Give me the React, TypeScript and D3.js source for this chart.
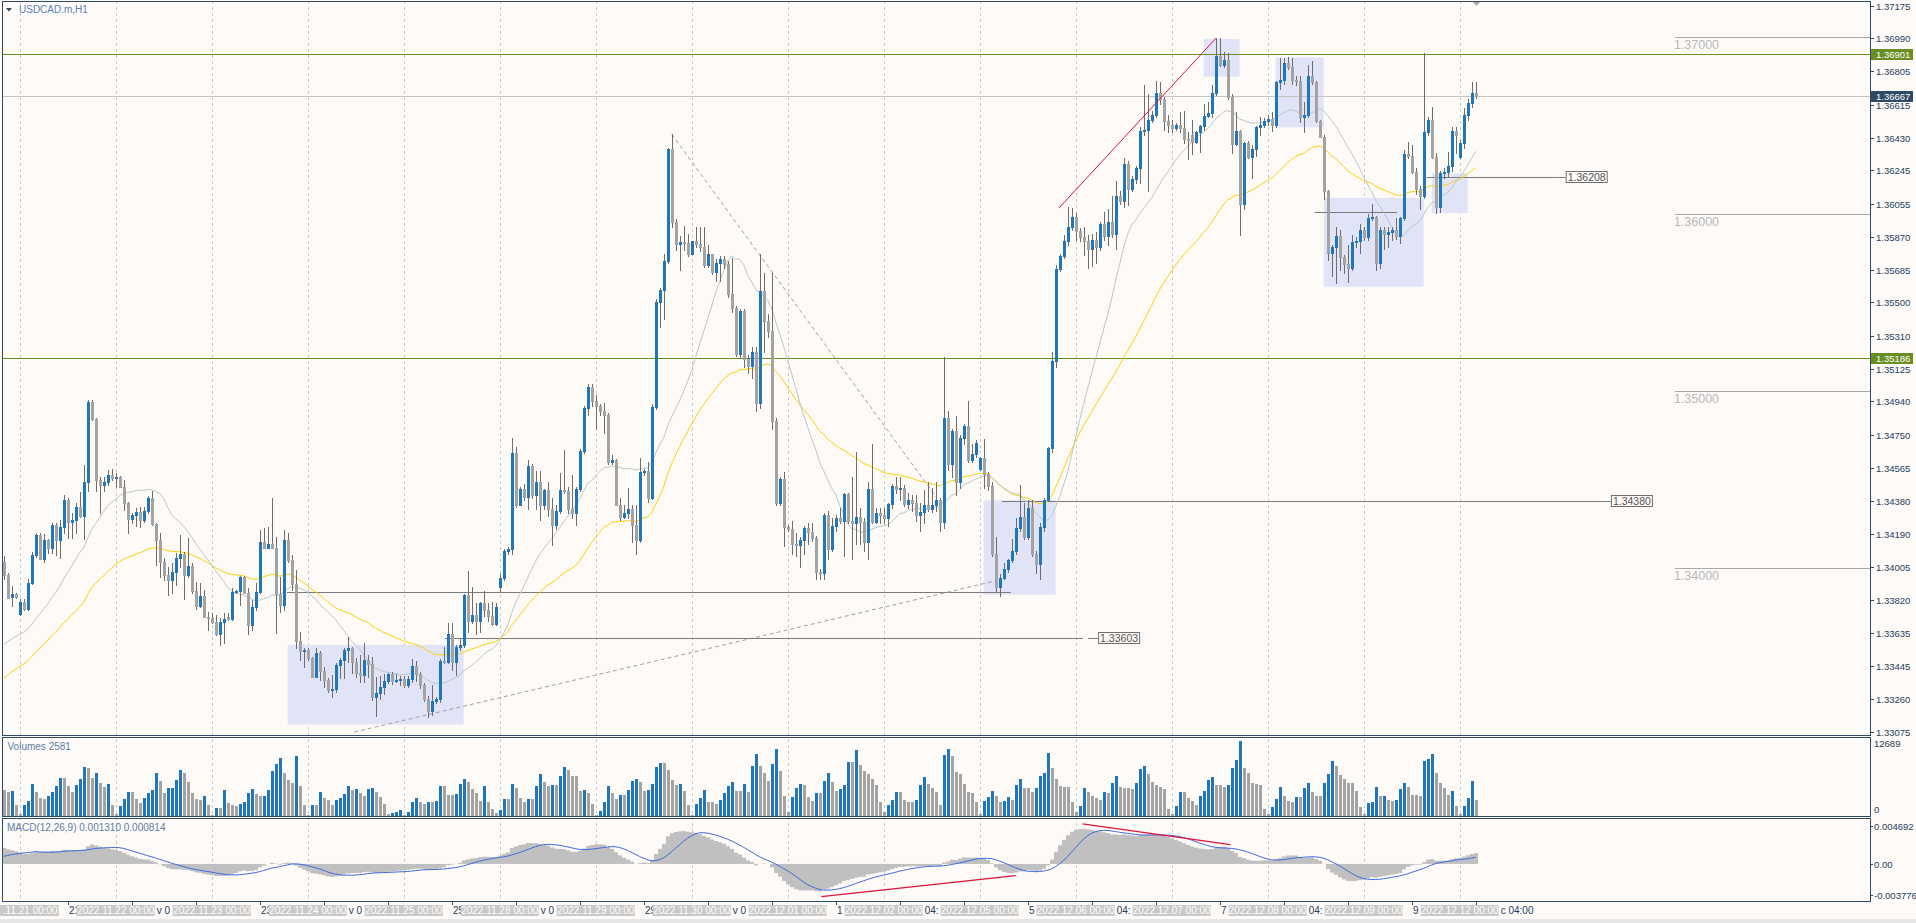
import React from "react";
import * as d3 from "d3";

// ---------------- DATA ----------------
// bar index 0 = 2022.11.21 00:00 (H1). First visible bar is index -4 (2022.11.18 20:00).
const firstIndex = -4;

// [open, high, low, close]
const candles: number[][] = [
  // Nov 18 20:00-23:00
  [1.34036,1.34068,1.33940,1.33960],[1.33960,1.33974,1.33829,1.33832],[1.33838,1.33898,1.33786,1.33850],[1.33850,1.33857,1.33829,1.33838],
  // Nov 21
  [1.33738,1.33823,1.33735,1.33810],[1.33810,1.33823,1.33763,1.33767],[1.33767,1.33936,1.33763,1.33913],[1.33913,1.34088,1.33908,1.34071],
  [1.34071,1.34196,1.34064,1.34186],[1.34186,1.34196,1.34049,1.34053],[1.34053,1.34192,1.34036,1.34158],[1.34158,1.34162,1.34083,1.34111],
  [1.34111,1.34252,1.34083,1.34243],[1.34243,1.34256,1.34073,1.34158],[1.34158,1.34271,1.34058,1.34229],[1.34229,1.34412,1.34196,1.34384],
  [1.34384,1.34393,1.34167,1.34262],[1.34262,1.34308,1.34167,1.34271],[1.34271,1.34365,1.34196,1.34342],[1.34342,1.34431,1.34290,1.34295],
  [1.34295,1.34581,1.34162,1.34485],[1.34485,1.34948,1.34436,1.34939],[1.34939,1.34948,1.34835,1.34839],[1.34839,1.34845,1.34436,1.34497],
  [1.34497,1.34516,1.34308,1.34467],[1.34467,1.34516,1.34436,1.34485],[1.34485,1.34553,1.34468,1.34525],[1.34525,1.34557,1.34497,1.34506],
  // Nov 22
  [1.34506,1.34534,1.34459,1.34512],[1.34512,1.34519,1.34455,1.34459],[1.34459,1.34497,1.34327,1.34365],[1.34365,1.34374,1.34196,1.34277],
  [1.34277,1.34308,1.34252,1.34299],[1.34299,1.34337,1.34237,1.34318],[1.34318,1.34346,1.34233,1.34271],[1.34271,1.34346,1.34262,1.34322],
  [1.34322,1.34407,1.34308,1.34393],[1.34393,1.34435,1.34243,1.34248],[1.34248,1.34256,1.34017,1.34155],[1.34155,1.34196,1.33951,1.34032],
  [1.34032,1.34055,1.33932,1.33960],[1.33960,1.34007,1.33846,1.33932],[1.33932,1.34025,1.33857,1.33977],[1.33977,1.34083,1.33904,1.34058],
  [1.34058,1.34186,1.34007,1.34077],[1.34077,1.34092,1.33823,1.33960],[1.33960,1.34167,1.33951,1.34011],[1.34011,1.34025,1.33857,1.33870],
  [1.33870,1.33919,1.33767,1.33786],[1.33786,1.33913,1.33782,1.33844],[1.33844,1.33876,1.33720,1.33725],[1.33725,1.33753,1.33650,1.33716],
  // Nov 23
  [1.33716,1.33744,1.33688,1.33697],[1.33697,1.33735,1.33622,1.33625],[1.33625,1.33716,1.33565,1.33693],[1.33693,1.33744,1.33575,1.33712],
  [1.33725,1.33744,1.33706,1.33712],[1.33712,1.33885,1.33706,1.33864],[1.33864,1.33876,1.33857,1.33868],[1.33868,1.33955,1.33791,1.33951],
  [1.33951,1.33955,1.33857,1.33861],[1.33861,1.33885,1.33625,1.33678],[1.33678,1.33819,1.33650,1.33782],[1.33782,1.33913,1.33763,1.33864],
  [1.33864,1.34214,1.33857,1.34147],[1.34147,1.34228,1.34111,1.34115],[1.34115,1.34233,1.34111,1.34134],[1.34134,1.34393,1.34111,1.34115],
  [1.34115,1.34177,1.33635,1.33853],[1.33853,1.33951,1.33753,1.33791],[1.33791,1.34214,1.33763,1.34158],[1.34158,1.34196,1.34036,1.34045],
  [1.34045,1.34073,1.33876,1.33908],[1.33908,1.33989,1.33546,1.33590],[1.33590,1.33640,1.33480,1.33533],[1.33533,1.33546,1.33443,1.33537],
  // Nov 24
  [1.33537,1.33546,1.33480,1.33490],[1.33490,1.33499,1.33383,1.33386],[1.33386,1.33546,1.33383,1.33518],[1.33518,1.33528,1.33368,1.33415],
  [1.33415,1.33443,1.33330,1.33368],[1.33368,1.33377,1.33302,1.33311],[1.33311,1.33396,1.33273,1.33315],[1.33315,1.33462,1.33302,1.33452],
  [1.33452,1.33490,1.33377,1.33480],[1.33480,1.33546,1.33377,1.33537],[1.33537,1.33612,1.33471,1.33546],[1.33546,1.33556,1.33405,1.33471],
  [1.33471,1.33490,1.33386,1.33405],[1.33405,1.33509,1.33358,1.33396],[1.33396,1.33575,1.33358,1.33480],[1.33480,1.33509,1.33386,1.33458],
  [1.33458,1.33499,1.33255,1.33273],[1.33273,1.33386,1.33161,1.33292],[1.33292,1.33387,1.33261,1.33329],[1.33329,1.33399,1.33286,1.33362],
  [1.33362,1.33404,1.33349,1.33399],[1.33399,1.33412,1.33344,1.33362],[1.33362,1.33399,1.33354,1.33369],[1.33369,1.33387,1.33336,1.33374],
  // Nov 25
  [1.33374,1.33387,1.33329,1.33336],[1.33336,1.33387,1.33329,1.33374],[1.33374,1.33488,1.33354,1.33445],[1.33445,1.33475,1.33362,1.33399],
  [1.33399,1.33412,1.33324,1.33336],[1.33336,1.33349,1.33248,1.33261],[1.33261,1.33278,1.33159,1.33192],[1.33192,1.33336,1.33172,1.33248],
  [1.33248,1.33273,1.33235,1.33261],[1.33261,1.33488,1.33243,1.33475],[1.33475,1.33551,1.33462,1.33470],[1.33470,1.33690,1.33462,1.33627],
  [1.33627,1.33690,1.33425,1.33470],[1.33470,1.33563,1.33394,1.33551],[1.33551,1.33606,1.33538,1.33563],[1.33563,1.33855,1.33551,1.33847],
  [1.33847,1.33980,1.33639,1.33702],[1.33702,1.33893,1.33690,1.33733],[1.33733,1.33804,1.33627,1.33702],[1.33702,1.33809,1.33639,1.33804],
  [1.33804,1.33867,1.33727,1.33760],[1.33760,1.33804,1.33702,1.33727],[1.33727,1.33809,1.33677,1.33682],[1.33682,1.33804,1.33677,1.33778],
  // Nov 28
  [1.33893,1.33968,1.33867,1.33942],[1.33942,1.34106,1.33930,1.34093],[1.34093,1.34119,1.34081,1.34106],[1.34106,1.34732,1.34076,1.34649],
  [1.34649,1.34681,1.34346,1.34358],[1.34358,1.34459,1.34353,1.34447],[1.34447,1.34472,1.34384,1.34401],[1.34401,1.34611,1.34333,1.34573],
  [1.34573,1.34585,1.34396,1.34409],[1.34409,1.34548,1.34333,1.34485],[1.34485,1.34548,1.34270,1.34358],[1.34358,1.34447,1.34333,1.34439],
  [1.34439,1.34485,1.34295,1.34333],[1.34333,1.34396,1.34131,1.34245],[1.34245,1.34358,1.34220,1.34320],[1.34320,1.34535,1.34308,1.34439],
  [1.34439,1.34666,1.34422,1.34434],[1.34434,1.34459,1.34308,1.34333],[1.34333,1.34522,1.34283,1.34308],[1.34308,1.34459,1.34245,1.34447],
  [1.34447,1.34674,1.34434,1.34661],[1.34661,1.34914,1.34649,1.34901],[1.34901,1.35040,1.34863,1.35022],[1.35022,1.35040,1.34914,1.34944],
  // Nov 29
  [1.34944,1.34977,1.34787,1.34914],[1.34914,1.34926,1.34863,1.34888],[1.34888,1.34933,1.34762,1.34863],[1.34863,1.34876,1.34585,1.34598],
  [1.34598,1.34636,1.34585,1.34611],[1.34611,1.34616,1.34353,1.34358],[1.34358,1.34396,1.34270,1.34288],[1.34288,1.34358,1.34283,1.34308],
  [1.34308,1.34454,1.34283,1.34333],[1.34333,1.34353,1.34144,1.34245],[1.34245,1.34358,1.34081,1.34157],[1.34157,1.34623,1.34144,1.34540],
  [1.34540,1.34560,1.34522,1.34545],[1.34545,1.34598,1.34371,1.34396],[1.34396,1.34926,1.34389,1.34909],[1.34909,1.35519,1.34896,1.35499],
  [1.35499,1.35582,1.35363,1.35570],[1.35570,1.35772,1.35406,1.35731],[1.35731,1.36373,1.35721,1.36365],[1.36365,1.36448,1.35923,1.35954],
  [1.35954,1.35969,1.35797,1.35830],[1.35830,1.35873,1.35683,1.35840],[1.35840,1.35931,1.35797,1.35835],[1.35835,1.35885,1.35759,1.35772],
  // Nov 30
  [1.35772,1.35848,1.35772,1.35845],[1.35845,1.35923,1.35810,1.35828],[1.35828,1.35923,1.35792,1.35815],[1.35815,1.35923,1.35701,1.35709],
  [1.35709,1.35822,1.35700,1.35770],[1.35770,1.35772,1.35658,1.35671],[1.35671,1.35747,1.35620,1.35721],[1.35721,1.35759,1.35620,1.35747],
  [1.35747,1.35759,1.35696,1.35716],[1.35716,1.35734,1.35532,1.35545],[1.35545,1.35752,1.35444,1.35469],[1.35469,1.35480,1.35195,1.35210],
  [1.35210,1.35460,1.35190,1.35450],[1.35450,1.35460,1.35132,1.35181],[1.35181,1.35200,1.35100,1.35140],[1.35140,1.35248,1.35075,1.35219],
  [1.35219,1.35248,1.34887,1.34930],[1.34930,1.35773,1.34901,1.35565],[1.35565,1.35666,1.35219,1.35392],[1.35392,1.35435,1.35305,1.35340],
  [1.35340,1.35666,1.34786,1.34829],[1.34829,1.34844,1.34353,1.34368],[1.34368,1.34512,1.34353,1.34503],[1.34503,1.34541,1.34123,1.34230],
  // Dec 1
  [1.34230,1.34240,1.34210,1.34220],[1.34220,1.34267,1.34079,1.34137],[1.34137,1.34195,1.34065,1.34128],[1.34128,1.34174,1.34007,1.34160],
  [1.34160,1.34238,1.34079,1.34223],[1.34223,1.34252,1.34137,1.34200],[1.34200,1.34252,1.34151,1.34171],[1.34171,1.34180,1.33935,1.33978],
  [1.33978,1.33995,1.33940,1.33970],[1.33970,1.34310,1.33935,1.34296],[1.34296,1.34324,1.34050,1.34108],[1.34108,1.34281,1.34094,1.34238],
  [1.34238,1.34301,1.34209,1.34281],[1.34281,1.34339,1.34252,1.34267],[1.34267,1.34425,1.34065,1.34417],[1.34417,1.34425,1.34252,1.34267],
  [1.34267,1.34512,1.34050,1.34252],[1.34252,1.34656,1.34137,1.34290],[1.34290,1.34339,1.34137,1.34261],[1.34261,1.34281,1.34094,1.34146],
  [1.34146,1.34483,1.34050,1.34446],[1.34446,1.34700,1.34252,1.34261],[1.34261,1.34339,1.34252,1.34310],[1.34310,1.34339,1.34252,1.34296],
  // Dec 2
  [1.34296,1.34339,1.34252,1.34281],[1.34281,1.34368,1.34238,1.34359],[1.34359,1.34474,1.34339,1.34463],[1.34463,1.34512,1.34425,1.34446],
  [1.34446,1.34512,1.34382,1.34454],[1.34454,1.34469,1.34347,1.34359],[1.34359,1.34425,1.34339,1.34382],[1.34382,1.34411,1.34324,1.34365],
  [1.34365,1.34411,1.34267,1.34301],[1.34301,1.34368,1.34209,1.34318],[1.34318,1.34440,1.34252,1.34353],[1.34353,1.34483,1.34324,1.34330],
  [1.34330,1.34454,1.34318,1.34353],[1.34353,1.34483,1.34324,1.34382],[1.34382,1.34397,1.34209,1.34261],[1.34261,1.35190,1.34223,1.34849],
  [1.34849,1.34887,1.34555,1.34584],[1.34584,1.34786,1.34512,1.34772],[1.34772,1.34858,1.34411,1.34483],[1.34483,1.34751,1.34454,1.34734],
  [1.34734,1.34815,1.34700,1.34800],[1.34800,1.34945,1.34599,1.34607],[1.34607,1.34700,1.34599,1.34642],[1.34642,1.34723,1.34627,1.34705],
  // Dec 5
  [1.34561,1.34627,1.34555,1.34619],[1.34619,1.34728,1.34454,1.34532],[1.34532,1.34540,1.34440,1.34463],[1.34463,1.34483,1.34065,1.34079],
  [1.34079,1.34174,1.33869,1.33892],[1.33892,1.33964,1.33840,1.33941],[1.33941,1.34030,1.33935,1.33993],[1.33993,1.34050,1.33978,1.34045],
  [1.34045,1.34166,1.34036,1.34094],[1.34094,1.34281,1.34079,1.34223],[1.34223,1.34469,1.34209,1.34290],[1.34290,1.34368,1.34166,1.34174],
  [1.34174,1.34382,1.34166,1.34339],[1.34339,1.34382,1.34065,1.34079],[1.34079,1.34094,1.33972,1.34022],[1.34022,1.34252,1.33935,1.34232],
  [1.34232,1.34397,1.34209,1.34382],[1.34382,1.34685,1.34376,1.34676],[1.34676,1.35219,1.34656,1.35167],[1.35167,1.35709,1.35132,1.35689],
  [1.35689,1.35773,1.35675,1.35761],[1.35761,1.35882,1.35752,1.35848],[1.35848,1.36041,1.35825,1.35926],[1.35926,1.36032,1.35911,1.35983],
  // Dec 6
  [1.35983,1.36003,1.35853,1.35905],[1.35905,1.35917,1.35848,1.35868],[1.35868,1.35926,1.35767,1.35848],[1.35848,1.35882,1.35695,1.35802],
  [1.35802,1.35888,1.35703,1.35853],[1.35853,1.35897,1.35724,1.35810],[1.35810,1.35954,1.35796,1.35940],[1.35940,1.36012,1.35853,1.35877],
  [1.35877,1.36027,1.35825,1.35954],[1.35954,1.36099,1.35868,1.35888],[1.35888,1.36185,1.35802,1.36099],[1.36099,1.36128,1.36055,1.36070],
  [1.36070,1.36315,1.36041,1.36280],[1.36280,1.36300,1.36050,1.36142],[1.36142,1.36214,1.36128,1.36194],[1.36194,1.36272,1.36171,1.36257],
  [1.36257,1.36488,1.36171,1.36465],[1.36465,1.36725,1.36445,1.36474],[1.36474,1.36676,1.36128,1.36531],[1.36531,1.36581,1.36517,1.36560],
  [1.36560,1.36748,1.36546,1.36681],[1.36681,1.36742,1.36618,1.36647],[1.36647,1.36661,1.36474,1.36523],[1.36523,1.36560,1.36459,1.36503],
  // Dec 7
  [1.36503,1.36531,1.36459,1.36482],[1.36482,1.36511,1.36474,1.36503],[1.36503,1.36575,1.36459,1.36482],[1.36482,1.36581,1.36402,1.36422],
  [1.36422,1.36459,1.36309,1.36416],[1.36445,1.36531,1.36338,1.36407],[1.36407,1.36465,1.36400,1.36459],[1.36459,1.36503,1.36350,1.36494],
  [1.36494,1.36618,1.36474,1.36552],[1.36552,1.36632,1.36546,1.36569],[1.36569,1.36725,1.36546,1.36684],[1.36684,1.36993,1.36670,1.36892],
  [1.36892,1.36993,1.36834,1.36840],[1.36840,1.36915,1.36829,1.36869],[1.36869,1.36906,1.36647,1.36661],[1.36661,1.36676,1.36344,1.36396],
  [1.36396,1.36575,1.36387,1.36465],[1.36465,1.36474,1.35882,1.36055],[1.36055,1.36407,1.36027,1.36402],[1.36402,1.36410,1.36315,1.36321],
  [1.36321,1.36387,1.36200,1.36364],[1.36364,1.36494,1.36329,1.36488],[1.36488,1.36546,1.36445,1.36503],[1.36503,1.36540,1.36488,1.36523],
  // Dec 8
  [1.36523,1.36560,1.36500,1.36537],[1.36537,1.36575,1.36465,1.36503],[1.36503,1.36748,1.36488,1.36742],[1.36742,1.36878,1.36705,1.36754],
  [1.36754,1.36878,1.36733,1.36849],[1.36849,1.36886,1.36820,1.36829],[1.36829,1.36878,1.36733,1.36754],[1.36754,1.36777,1.36725,1.36748],
  [1.36748,1.36777,1.36517,1.36546],[1.36546,1.36632,1.36459,1.36555],[1.36555,1.36840,1.36546,1.36777],[1.36777,1.36863,1.36733,1.36742],
  [1.36742,1.36748,1.36517,1.36523],[1.36523,1.36531,1.36431,1.36436],[1.36436,1.36445,1.36084,1.36128],[1.36128,1.36136,1.35738,1.35781],
  [1.35781,1.35825,1.35651,1.35810],[1.35810,1.35926,1.35608,1.35877],[1.35877,1.35911,1.35680,1.35753],[1.35753,1.35767,1.35666,1.35715],
  [1.35715,1.35825,1.35617,1.35695],[1.35695,1.35882,1.35680,1.35839],[1.35839,1.35868,1.35810,1.35845],[1.35845,1.35940,1.35781,1.35911],
  // Dec 9
  [1.35911,1.35926,1.35853,1.35868],[1.35868,1.35998,1.35853,1.35975],[1.35975,1.36055,1.35963,1.35983],[1.35983,1.35990,1.35680,1.35724],
  [1.35724,1.35926,1.35695,1.35911],[1.35911,1.35926,1.35802,1.35888],[1.35888,1.35926,1.35810,1.35897],[1.35897,1.35926,1.35853,1.35911],
  [1.35911,1.35975,1.35859,1.35877],[1.35877,1.35983,1.35833,1.35975],[1.35975,1.36358,1.35963,1.36335],[1.36335,1.36407,1.36315,1.36329],
  [1.36329,1.36387,1.36229,1.36234],[1.36234,1.36257,1.36113,1.36142],[1.36142,1.36157,1.36027,1.36099],[1.36099,1.36906,1.36090,1.36459],
  [1.36459,1.36546,1.36445,1.36531],[1.36531,1.36604,1.36315,1.36321],[1.36321,1.36344,1.36003,1.36041],[1.36041,1.36243,1.36009,1.36229],
  [1.36229,1.36257,1.36200,1.36234],[1.36234,1.36350,1.36214,1.36272],[1.36272,1.36488,1.36243,1.36465],[1.36465,1.36488,1.36344,1.36445],
  // Dec 12 00:00-04:00
  [1.36321,1.36416,1.36315,1.36402],[1.36402,1.36598,1.36373,1.36560],[1.36560,1.36647,1.36531,1.36627],[1.36627,1.36742,1.36604,1.36681],
  [1.36681,1.36742,1.36655,1.36667],
];

// tick volumes, same order as candles
const volumes: number[] = [
  4230,3948,4117,1861,
  282,1692,2425,5245,3948,2933,2707,3215,3948,4907,6317,6317,4963,3948,5076,6091,8122,7952,6373,7163,5527,4794,5245,1692,
  282,1523,2707,3948,3948,2707,2087,2933,3779,4230,7163,5753,3835,4625,4681,5922,7727,7163,5640,3835,2707,2538,3215,1692,
  169,1297,1297,4230,2143,1805,1523,1974,2256,3779,4512,3553,3271,3328,4230,7445,8686,9757,7163,5922,5471,9983,4907,1692,
  113,1861,1861,3948,2933,2538,1861,2538,2989,3666,4963,4230,4512,3779,3215,4512,4625,3948,3102,1974,227,378,529,908,
  60,529,2269,3026,2269,1891,2269,2269,2496,4917,4917,3404,3404,3555,5295,6202,5673,4538,3782,2496,4917,2269,1135,378,
  908,2799,2799,5295,4690,3026,2269,2799,2799,4917,6959,5673,4917,5144,5144,6656,8169,7715,6656,6656,4160,4387,3782,1891,
  151,756,2269,4917,3782,2799,3404,3404,4387,5824,6202,5673,4160,4311,5295,8169,8926,8926,7715,6051,5144,5295,4160,1740,
  151,1891,3026,4387,2269,2269,1891,2647,3782,4917,5673,4160,4160,5273,3976,8298,10459,8298,7261,5878,8730,11324,7607,3285,
  519,3112,4581,5273,5100,3112,2420,3803,3803,5878,7175,5705,4149,4408,5100,8990,8990,11064,8471,7607,7002,6137,5100,2247,
  519,1815,2680,3976,3976,2680,2247,2247,2680,5100,6569,5273,4581,3976,1815,10286,11324,10027,7434,7002,5273,3976,3803,2247,
  259,2420,3112,4149,3285,2247,2420,3112,2680,5100,6137,4668,4668,3976,4668,6742,7261,10632,8039,6137,5014,4841,4841,2247,
  519,1556,4581,3976,3285,2939,2680,3976,3803,5446,6742,4841,4581,4581,4408,5446,7866,8298,7002,5705,5100,4841,4408,1124,
  259,1556,3976,3976,2939,2420,1815,3371,4149,5964,6569,5100,5100,4841,5100,8039,9422,12689,8039,7175,5446,5273,5100,1124,
  259,1383,2853,4841,3285,2507,2247,3112,3112,4581,5446,3976,3285,3285,5446,7002,9163,8298,6829,6137,5446,5446,4149,1383,
  259,2075,2247,4841,3285,3371,2680,2507,2680,4408,5446,4841,3544,3544,3371,9163,9595,10459,7261,5446,4581,3544,4149,1642,
  259,1642,2939,5878,2581,
];

// price axis labels
const priceTicks = ["1.37175","1.36990","1.36805","1.36615","1.36430","1.36245","1.36055","1.35870","1.35685","1.35500","1.35310","1.35125",
  "1.34940","1.34750","1.34565","1.34380","1.34190","1.34005","1.33820","1.33635","1.33445","1.33260","1.33075"];
const volumeTicks = [12689, 0];
const macdTicks = [0.004692, 0, -0.003776];
const macdTickText = ["0.004692", "0.00", "-0.003776"];

// day separators (bar index of each 00:00)
const dayStarts = [0,24,48,72,96,120,144,168,192,216,240,264,288,312,336,360];
const dayLabels = ["2022.11.21 00:00","2022.11.22 00:00","2022.11.23 00:00","2022.11.24 00:00","2022.11.25 00:00","2022.11.28 00:00",
  "2022.11.29 00:00","2022.11.30 00:00","2022.12.01 00:00","2022.12.02 00:00","2022.12.05 00:00","2022.12.06 00:00","2022.12.07 00:00",
  "2022.12.08 00:00","2022.12.09 00:00","2022.12.12 00:00"];
// time-axis ticks every 16 bars; only the parts of their labels that the day boxes leave visible
const timeTickBars = [12,28,44,60,76,92,108,124,140,156,172,188,204,220,236,252,268,284,300,316,332,348,364];
const timeTickVisible = ["21","v 0","","23","v 0","","25","v 0","","29","v 0","","1","04:","","5","04:","","7","04:","","9","c 04:00"];

// chart objects (bar index / price)
const levelLines = [{ price: 1.36901, text: "1.36901" }, { price: 1.35186, text: "1.35186" }];
const bidPrice = 1.36667;
const roundLevels = [{ price: 1.37, text: "1.37000" }, { price: 1.36, text: "1.36000" }, { price: 1.35, text: "1.35000" }, { price: 1.34, text: "1.34000" }];
const roundLevelFrom = 413.8;
const labelledLines = [
  { price: 1.36208, from: 351.75, box: 386.5, text: "1.36208" },
  { price: 1.34380, from: 245.6, box: 397.8, text: "1.34380" },
  { price: 1.33603, from: 106.3, box: 269.6, text: "1.33603", lineTo: 265.8 },
];
const plainHLines = [
  { price: 1.33866, from: 66.8, to: 247.8 },
  { price: 1.36012, from: 323.8, to: 344.3 },
];
const rects = [
  { k1: 67, k2: 111, p1: 1.33565, p2: 1.33116 },
  { k1: 241, k2: 259, p1: 1.34382, p2: 1.33849 },
  { k1: 296, k2: 305, p1: 1.36987, p2: 1.36774 },
  { k1: 314, k2: 326, p1: 1.36883, p2: 1.36488 },
  { k1: 326, k2: 351, p1: 1.36090, p2: 1.35588 },
  { k1: 353, k2: 362, p1: 1.36228, p2: 1.36004 },
];
const dashedTrends = [
  { k1: 83.6, p1: 1.33073, k2: 243.8, p2: 1.33926 },
  { k1: 163, p1: 1.36449, k2: 229.3, p2: 1.34395 },
];
const redTrend = { k1: 259.8, p1: 1.36032, k2: 299.1, p2: 1.36992 };
const macdRedTrends = [
  { k1: 200.4, v1: -0.0040, k2: 249, v2: -0.00144 },
  { k1: 265.7, v1: 0.00491, k2: 302.7, v2: 0.00237 },
];

const smaFastPrehistory = 1.33548; // SMA(20)
const emaSlowSeed = 1.33353;       // EMA(50)
const macdSeed = { ema12: 1.3382, ema26: 1.3362, signal: 0.0008 };

// ---------------- CHART ----------------
const FONT = "'Liberation Sans', Arial, sans-serif";
const BG = "#fdfaf8";
const FRAME = "#2e4b66";
const BLUE = "#1f76bd";
const GRAY = "#a3a3a3";

const L = 2, R = 1870;
const mainTop = 1, mainBot = 735, volTop = 737, volBot = 816, macdTop = 818, macdBot = 901;
const DAY_BOX_HALF = 39;

export default function App() {
  const x = d3.scaleLinear().domain([0, 360]).range([19.7, 1459.7]);
  const y = d3.scaleLinear().domain([1.33075, 1.37175]).range([731.7, 5.7]);
  const yV = d3.scaleLinear().domain([0, 12689]).range([815.5, 740.5]);
  const yM = d3.scaleLinear().domain([-0.003776, 0.004692]).range([894.7, 825.7]);

  const bars = candles.map((c, i) => ({ k: i + firstIndex, o: c[0], h: c[1], l: c[2], c: c[3], v: volumes[i] ?? 0 }));
  const closes = bars.map((b) => b.c);

  const sma = (period: number, pre: number) => {
    const padded = [...Array(period - 1).fill(pre), ...closes];
    return closes.map((_, i) => d3.mean(padded.slice(i, i + period)) as number);
  };
  const ema = (period: number, seed: number) => {
    let e = seed;
    const a = 2 / (period + 1);
    return closes.map((c) => (e += a * (c - e)));
  };
  const maFast = sma(20, smaFastPrehistory);
  const maSlow = ema(50, emaSlowSeed);

  let e12 = macdSeed.ema12, e26 = macdSeed.ema26;
  const macdMain = closes.map((c) => { e12 += (2 / 13) * (c - e12); e26 += (2 / 27) * (c - e26); return e12 - e26; });
  const padM = [...Array(8).fill(macdSeed.signal), ...macdMain];
  const macdSignal = macdMain.map((_, i) => d3.mean(padM.slice(i, i + 9)) as number);

  const line = d3.line<number>().x((_, i) => x(bars[i].k)).y((d) => y(d));
  const sigLine = d3.line<number>().x((_, i) => x(bars[i].k)).y((d) => yM(d));

  const px = (k: number) => Math.round(x(k));

  const fragX = (k: number) => {
    const dayK = Math.floor(k / 24) * 24;
    const boxRight = x(dayK) + DAY_BOX_HALF;
    return px(k) + 1 < boxRight ? boxRight + 2 : px(k) + 1;
  };

  return (
    <svg width={1916} height={923} style={{ position: "absolute", left: 0, top: 0, display: "block", background: BG }} fontFamily={FONT}>
      <defs>
        <clipPath id="cMain"><rect x={L} y={mainTop} width={R - L} height={mainBot - mainTop} /></clipPath>
        <clipPath id="cVol"><rect x={L} y={volTop} width={R - L} height={volBot - volTop} /></clipPath>
        <clipPath id="cMacd"><rect x={L} y={macdTop} width={R - L} height={macdBot - macdTop} /></clipPath>
      </defs>
      <rect x={0} y={0} width={1916} height={923} fill={BG} />
      <rect x={0} y={919} width={1916} height={4} fill="#e6e6e6" />

      {/* period separators */}
      {dayStarts.map((k) => (
        <line key={"sep" + k} x1={px(k) + 0.5} x2={px(k) + 0.5} y1={mainTop} y2={macdBot} stroke="#c9c9c9" strokeDasharray="3,3" />
      ))}

      {/* MAIN PANEL */}
      <g clipPath="url(#cMain)">
        {rects.map((r, i) => (
          <rect key={"r" + i} x={x(r.k1)} y={y(r.p1)} width={x(r.k2) - x(r.k1)} height={y(r.p2) - y(r.p1)} fill="#e1e4f7" />
        ))}
        {levelLines.map((l) => (
          <line key={l.text} x1={L} x2={R} y1={Math.round(y(l.price)) + 0.5} y2={Math.round(y(l.price)) + 0.5} stroke="#6b8e23" />
        ))}
        <line x1={L} x2={R} y1={Math.round(y(bidPrice)) + 0.5} y2={Math.round(y(bidPrice)) + 0.5} stroke="#c4c4c4" />
        {roundLevels.map((l) => (
          <g key={l.text}>
            <line x1={x(roundLevelFrom)} x2={R} y1={Math.round(y(l.price)) + 0.5} y2={Math.round(y(l.price)) + 0.5} stroke="#a8a8a8" />
            <text x={x(roundLevelFrom) - 1} y={y(l.price) + 12.5} fontSize={12.5} fill="#b8b8b8">{l.text}</text>
          </g>
        ))}
        {plainHLines.map((l, i) => (
          <line key={"ph" + i} x1={x(l.from)} x2={x(l.to)} y1={Math.round(y(l.price)) + 0.5} y2={Math.round(y(l.price)) + 0.5} stroke="#7a7a7a" />
        ))}
        {dashedTrends.map((t, i) => (
          <line key={"dt" + i} x1={x(t.k1)} y1={y(t.p1)} x2={x(t.k2)} y2={y(t.p2)} stroke="#a0a0a0" strokeDasharray="4,3" />
        ))}
        {labelledLines.map((l) => {
          const yy = Math.round(y(l.price)) + 0.5;
          const bx = x(l.box);
          const lineEnd = l.lineTo !== undefined ? x(l.lineTo) : bx - 10;
          return (
            <g key={l.text}>
              <line x1={x(l.from)} x2={lineEnd} y1={yy} y2={yy} stroke="#7a7a7a" />
              <line x1={bx - 10} x2={bx} y1={yy} y2={yy} stroke="#7a7a7a" />
              <rect x={bx + 0.5} y={yy - 6} width={41} height={11} fill={BG} stroke="#6f6f6f" />
              <text x={bx + 21} y={yy + 3.5} fontSize={10.5} fill="#555" textAnchor="middle">{l.text}</text>
            </g>
          );
        })}

        {/* moving averages */}
        <path d={line(maSlow) || ""} fill="none" stroke="#ffd000" strokeWidth={1} />
        <path d={line(maFast) || ""} fill="none" stroke="#b6c9c5" strokeWidth={1} />

        {/* candles */}
        {bars.map((b) => {
          const cx = px(b.k);
          const up = b.c > b.o;
          const top = Math.round(y(Math.max(b.o, b.c)));
          const bot = Math.round(y(Math.min(b.o, b.c)));
          return (
            <g key={"c" + b.k}>
              <line x1={cx + 0.5} x2={cx + 0.5} y1={Math.round(y(b.h))} y2={Math.round(y(b.l)) + 1} stroke="#6d6d6d" />
              <rect x={cx - 1} y={top} width={3} height={Math.max(1, bot - top + 1)} fill={up ? BLUE : GRAY} />
            </g>
          );
        })}

        <line x1={x(redTrend.k1)} y1={y(redTrend.p1)} x2={x(redTrend.k2)} y2={y(redTrend.p2)} stroke="#dc143c" strokeWidth={1} />
        <path d={`M${px(364) - 4},1 L${px(364) + 5},1 L${px(364) + 0.5},6 Z`} fill="#a8a8a8" />
      </g>

      {/* VOLUME PANEL */}
      <g clipPath="url(#cVol)">
        {bars.map((b, i) => {
          const up = i > 0 && b.v > bars[i - 1].v;
          const top = Math.round(yV(b.v));
          return <rect key={"v" + b.k} x={px(b.k) - 1} y={top} width={3} height={Math.max(0, 816 - top)} fill={up ? BLUE : GRAY} />;
        })}
      </g>

      {/* MACD PANEL */}
      <g clipPath="url(#cMacd)">
        {bars.map((b, i) => {
          const v = macdMain[i];
          const y0 = yM(0), y1 = yM(v);
          return <rect key={"m" + b.k} x={px(b.k) - 2} y={Math.min(y0, y1)} width={4} height={Math.abs(y1 - y0)} fill="#c0c0c0" />;
        })}
        <path d={sigLine(macdSignal) || ""} fill="none" stroke="#3d6ae0" strokeWidth={1} />
        {macdRedTrends.map((t, i) => (
          <line key={"mr" + i} x1={x(t.k1)} y1={yM(t.v1)} x2={x(t.k2)} y2={yM(t.v2)} stroke="#dc143c" strokeWidth={1.3} />
        ))}
      </g>

      {/* frames */}
      <rect x={L + 0.5} y={mainTop + 0.5} width={R - L} height={mainBot - mainTop} fill="none" stroke={FRAME} />
      <rect x={L + 0.5} y={volTop + 0.5} width={R - L} height={volBot - volTop} fill="none" stroke={FRAME} />
      <rect x={L + 0.5} y={macdTop + 0.5} width={R - L} height={macdBot - macdTop} fill="none" stroke={FRAME} />

      {/* titles */}
      <path d="M6,8 L12,8 L9,11.5 Z" fill="#2e4b66" />
      <text x={19} y={13} fontSize={10} fill="#5a82b4">USDCAD.m,H1</text>
      <text x={7.5} y={749.5} fontSize={10} fill="#5a7fa6">Volumes 2581</text>
      <text x={7} y={831} fontSize={10} fill="#5a7fa6">MACD(12,26,9) 0.001310 0.000814</text>

      {/* price axis */}
      {priceTicks.map((t) => {
        const yy = Math.round(y(parseFloat(t))) + 0.5;
        return (
          <g key={t}>
            <line x1={R} x2={R + 4} y1={yy} y2={yy} stroke={FRAME} />
            <text x={R + 6} y={yy + 3.5} fontSize={9.5} fill="#243e5a">{t}</text>
          </g>
        );
      })}
      {levelLines.map((l) => (
        <g key={"lb" + l.text}>
          <rect x={R + 1} y={Math.round(y(l.price)) - 5} width={42} height={11} fill="#6b8e23" />
          <text x={R + 6} y={Math.round(y(l.price)) + 4} fontSize={9.5} fill="#ffffff">{l.text}</text>
        </g>
      ))}
      <rect x={R + 1} y={Math.round(y(bidPrice)) - 5} width={42} height={11} fill="#2e4b66" />
      <text x={R + 6} y={Math.round(y(bidPrice)) + 4} fontSize={9.5} fill="#ffffff">1.36667</text>

      {/* volume axis */}
      {volumeTicks.map((v) => (
        <text key={"vt" + v} x={R + 4} y={v === 0 ? 812.5 : 746.5} fontSize={9.5} fill="#243e5a">{v}</text>
      ))}
      {/* macd axis */}
      {macdTicks.map((v, i) => {
        const yy = Math.round(yM(v)) + 0.5;
        return (
          <g key={"mt" + i}>
            <line x1={R} x2={R + 3} y1={yy} y2={yy} stroke={FRAME} />
            <text x={R + 4} y={yy + 3.5} fontSize={9.5} fill="#243e5a">{macdTickText[i]}</text>
          </g>
        );
      })}

      {/* time axis */}
      {timeTickBars.map((k, i) => (
        <g key={"tt" + k}>
          <line x1={px(k) + 0.5} x2={px(k) + 0.5} y1={macdBot} y2={macdBot + 4} stroke={FRAME} />
          {timeTickVisible[i] ? (
            <text x={fragX(k)} y={914} fontSize={10} fill="#243e5a">{timeTickVisible[i]}</text>
          ) : null}
        </g>
      ))}
      {dayStarts.map((k, i) => {
        const left = Math.max(0, x(k) - DAY_BOX_HALF);
        return (
          <g key={"dl" + k}>
            <rect x={left} y={905} width={x(k) + DAY_BOX_HALF - left} height={11} fill="#c9c9c9" />
            {left > 0 ? (
              <text x={x(k)} y={914} fontSize={10} fill="#ffffff" textAnchor="middle">{dayLabels[i]}</text>
            ) : (
              <text x={x(k) + DAY_BOX_HALF - 1} y={914} fontSize={10} fill="#ffffff" textAnchor="end">{dayLabels[i].slice(4)}</text>
            )}
          </g>
        );
      })}
    </svg>
  );
}
